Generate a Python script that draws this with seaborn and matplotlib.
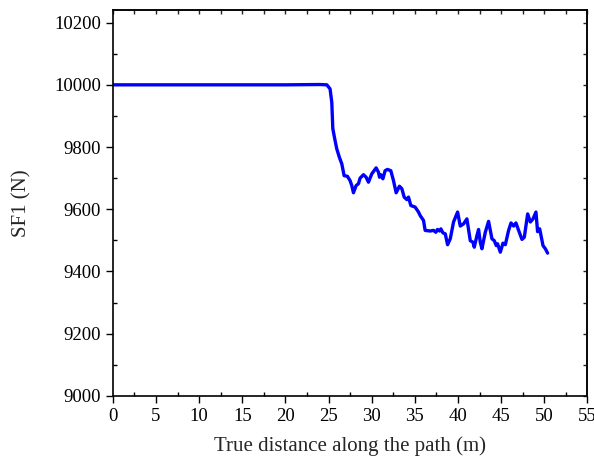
import pandas as pd
import seaborn as sns
import matplotlib.pyplot as plt
from matplotlib.ticker import MultipleLocator

# data
distance = [0.0, 5.0, 10.0, 15.0, 20.0, 24.0, 24.8, 25.17, 25.37, 25.49, 25.75, 25.95,
            26.25, 26.53, 26.8, 27.18, 27.49, 27.69, 27.88, 28.19, 28.46, 28.65,
            29.04, 29.35, 29.62, 30.01, 30.51, 30.78, 30.9, 31.06, 31.29, 31.55,
            31.82, 32.21, 32.52, 32.83, 33.21, 33.49, 33.76, 34.07, 34.26, 34.53,
            35.03, 35.42, 35.61, 36.0, 36.19, 36.77, 37.16, 37.43, 37.62, 37.86,
            38.01, 38.25, 38.52, 38.79, 39.1, 39.48, 39.95, 40.26, 40.64, 41.03,
            41.42, 41.73, 41.88, 42.19, 42.38, 42.58, 42.77, 43.16, 43.54, 43.93,
            44.2, 44.43, 44.58, 44.9, 45.21, 45.48, 45.86, 46.14, 46.44, 46.71,
            47.02, 47.41, 47.68, 48.07, 48.38, 48.69, 49.03, 49.22, 49.46, 49.85,
            50.12, 50.38]
sf1 = [10000, 10000, 10000, 10000, 10000, 10001, 10000, 9987, 9944, 9859, 9821, 9794,
       9767, 9746, 9708, 9706, 9692, 9676, 9653, 9676, 9682, 9700,
       9711, 9703, 9687, 9714, 9733, 9719, 9703, 9711, 9698, 9724,
       9728, 9724, 9692, 9653, 9674, 9666, 9639, 9631, 9639, 9612,
       9607, 9591, 9580, 9564, 9532, 9530, 9532, 9526, 9535, 9530,
       9537, 9524, 9521, 9486, 9505, 9559, 9591, 9546, 9553, 9569,
       9499, 9494, 9478, 9515, 9535, 9494, 9473, 9526, 9561, 9505,
       9499, 9483, 9489, 9462, 9491, 9486, 9532, 9556, 9546, 9556,
       9532, 9503, 9510, 9585, 9559, 9569, 9591, 9528, 9537, 9483,
       9473, 9459]

df = pd.DataFrame({"distance": distance, "SF1": sf1})

sns.set_style("ticks")
plt.rcParams["font.family"] = ["Liberation Serif", "DejaVu Serif"]

fig = plt.figure(figsize=(5.94, 4.63), dpi=100)
ax = fig.add_axes([0.190, 0.145, 0.799, 0.833])

sns.lineplot(data=df, x="distance", y="SF1", color="#0000ff", linewidth=2.4, ax=ax)

ax.set_xlim(0, 55)
ax.set_ylim(9000, 10240)
ax.xaxis.set_major_locator(MultipleLocator(5))
ax.xaxis.set_minor_locator(MultipleLocator(2.5))
ax.yaxis.set_major_locator(MultipleLocator(200))
ax.yaxis.set_minor_locator(MultipleLocator(100))

# bottom/left: major ticks out, minor ticks in
ax.tick_params(which="major", direction="out", length=5, width=1, labelsize=13.5,
               color="black", labelcolor="black")
ax.tick_params(which="minor", direction="in", length=3, width=1, color="black")

# top/right: small ticks pointing inward, no labels
top = ax.secondary_xaxis("top")
top.xaxis.set_major_locator(MultipleLocator(2.5))
top.tick_params(direction="in", length=3, width=1, labeltop=False)
right = ax.secondary_yaxis("right")
right.yaxis.set_major_locator(MultipleLocator(100))
right.tick_params(direction="in", length=3, width=1, labelright=False)

for side in ["left", "bottom", "top", "right"]:
    ax.spines[side].set_color("black")
    ax.spines[side].set_linewidth(1.2)
top.spines["top"].set_linewidth(1.2)
right.spines["right"].set_linewidth(1.2)

ax.set_xlabel("True distance along the path (m)", fontsize=15, labelpad=8)
ax.set_ylabel("SF1 (N)", fontsize=15, labelpad=16)

fig.savefig("out.png", dpi=100)
